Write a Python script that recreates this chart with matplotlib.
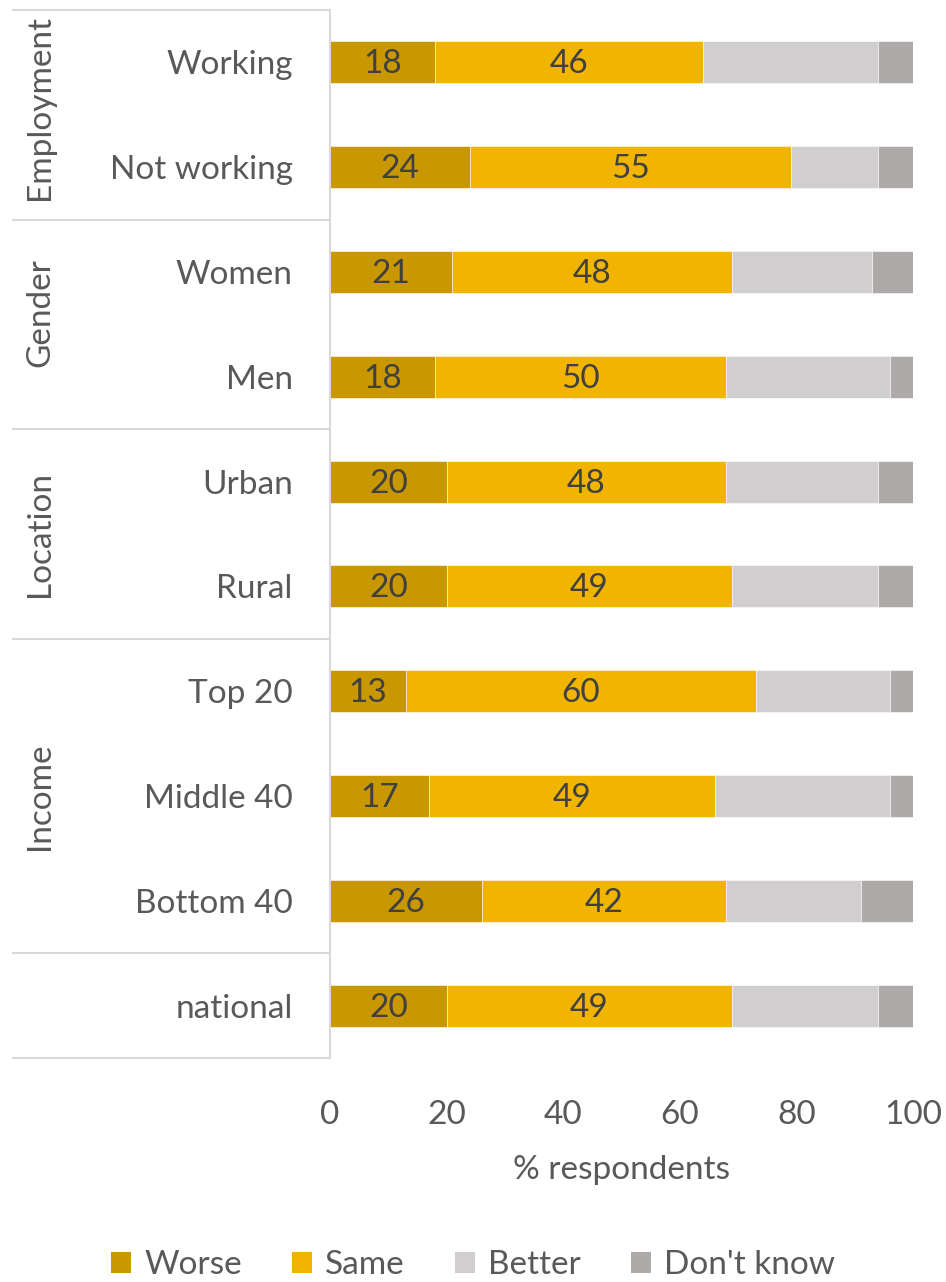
import matplotlib
matplotlib.use("Agg")
import matplotlib.pyplot as plt
from matplotlib.patches import Patch
import matplotlib.transforms as mtransforms

plt.rcParams['font.family'] = ['Lato', 'DejaVu Sans']

categories = ["Working", "Not working", "Women", "Men", "Urban", "Rural",
              "Top 20", "Middle 40", "Bottom 40", "national"]
worse = [18, 24, 21, 18, 20, 20, 13, 17, 26, 20]
same = [46, 55, 48, 50, 48, 49, 60, 49, 42, 49]
better = [30, 15, 24, 28, 26, 25, 23, 30, 23, 25]
dont_know = [6, 6, 7, 4, 6, 6, 4, 4, 9, 6]
series_names = ["Worse", "Same", "Better", "Don't know"]
colors = ["#C99700", "#F1B500", "#D0CECE", "#AEAAAA"]

# group name, first row, last row
groups = [("Employment", 0, 1), ("Gender", 2, 3), ("Location", 4, 5),
          ("Income", 6, 8), ("", 9, 9)]
# small upward nudge of the rotated group names (in rows)
group_nudge = [-0.07, -0.11, 0.0, 0.0, 0.0]
xticks = [0, 20, 40, 60, 80, 100]

text_col = "#595959"
label_col = "#404040"
line_col = "#D9D9D9"
fs = 24

fig = plt.figure(figsize=(9.46, 12.82), dpi=100)
ax = fig.add_axes([330 / 946, 1 - 1058 / 1282, 583 / 946, 1048 / 1282])

ypos = list(range(len(categories)))
left = [0] * len(categories)
for vals, name, col in zip([worse, same, better, dont_know], series_names, colors):
    ax.barh(ypos, vals, left=left, height=0.4, color=col,
            edgecolor="white", linewidth=0.4, label=name)
    if name in ("Worse", "Same"):
        for y, v, l in zip(ypos, vals, left):
            ax.text(l + v / 2, y + 0.02, str(v), ha="center", va="center",
                    fontsize=fs, color=label_col)
    left = [a + b for a, b in zip(left, vals)]

ax.set_xlim(0, 100)
ax.set_ylim(len(categories) - 0.5, -0.5)
ax.set_yticks(ypos)
ax.set_yticklabels(categories, fontsize=fs, color=text_col)
ax.set_xticks(xticks)
ax.set_xticklabels([str(t) for t in xticks], fontsize=fs, color=text_col)
ax.tick_params(axis="y", length=0, pad=27)
ax.tick_params(axis="x", length=0, pad=30)
for s in ["top", "right", "bottom"]:
    ax.spines[s].set_visible(False)
ax.spines["left"].set_color(line_col)
ax.spines["left"].set_linewidth(1.5)
ax.set_xlabel("% respondents", fontsize=fs, color=text_col, labelpad=18)

# group separator lines and labels at the left
trans = mtransforms.blended_transform_factory(ax.transAxes, ax.transData)
x0 = (12 - 330) / 583
boundaries = [-0.5] + [g[2] + 0.5 for g in groups]
for b in boundaries:
    ax.plot([x0, 0], [b, b], transform=trans, color=line_col, lw=1.5,
            clip_on=False, solid_capstyle="butt")
for (name, a, b), dy in zip(groups, group_nudge):
    if name:
        ax.text((40 - 330) / 583, (a + b) / 2 + dy, name, transform=trans,
                rotation=90, ha="center", va="center", fontsize=fs, color=text_col)

handles = [Patch(facecolor=c, edgecolor="none") for c in colors]
fig.legend(handles, series_names, loc="center", bbox_to_anchor=(0.5, 1 - 1265 / 1282),
           ncol=4, frameon=False, fontsize=fs, labelcolor=text_col,
           handlelength=0.6, handleheight=0.6, handletextpad=0.4, columnspacing=1.5)

fig.savefig("out.png", dpi=100)
